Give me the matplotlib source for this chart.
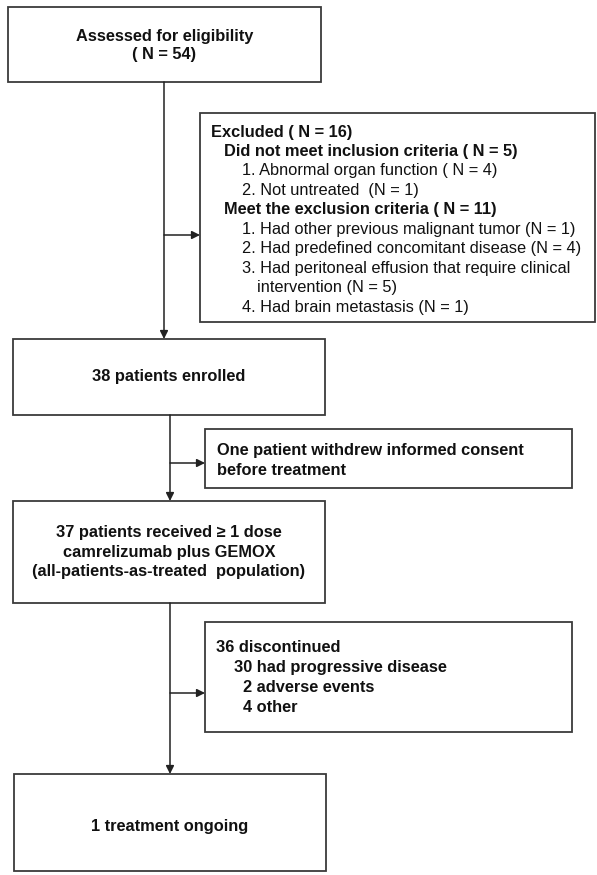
import matplotlib.pyplot as plt
from matplotlib.patches import Rectangle

# тексты блоков схемы
assessed = ['Assessed for eligibility', '( N = 54)']
enrolled = ['38 patients enrolled']
treated = ['37 patients received \u2265 1 dose', 'camrelizumab plus GEMOX',
           '(all-patients-as-treated  population)']
ongoing = ['1 treatment ongoing']
withdrew = ['One patient withdrew informed consent', 'before treatment']
excluded = ['Excluded ( N = 16)',
            'Did not meet inclusion criteria ( N = 5)',
            '1. Abnormal organ function ( N = 4)',
            '2. Not untreated  (N = 1)',
            'Meet the exclusion criteria ( N = 11)',
            '1. Had other previous malignant tumor (N = 1)',
            '2. Had predefined concomitant disease (N = 4)',
            '3. Had peritoneal effusion that require clinical',
            'intervention (N = 5)',
            '4. Had brain metastasis (N = 1)']
excluded_bold = [True, True, False, False, True, False, False, False, False, False]
excluded_indent = [0, 1, 2, 2, 1, 2, 2, 2, 3, 2]
discontinued = ['36 discontinued', '30 had progressive disease', '2 adverse events', '4 other']
disc_indent = [0, 1, 2, 2]

plt.rcParams['font.family'] = ['Liberation Sans', 'DejaVu Sans']
fs = 11.8
ec = '#3a3a3a'

fig = plt.figure(figsize=(5.97, 8.75), dpi=100)
ax = fig.add_axes([0, 0, 1, 1])
ax.set_xlim(0, 597)
ax.set_ylim(875, 0)
ax.axis('off')


def box(x0, y0, x1, y1):
    ax.add_patch(Rectangle((x0, y0), x1 - x0, y1 - y0, fill=False, ec=ec, lw=1.3))


def centered(lines, cx, cy, step=19.5):
    n = len(lines)
    for i, s in enumerate(lines):
        y = cy + (i - (n - 1) / 2) * step
        ax.text(cx, y, s, ha='center', va='center', fontsize=fs, fontweight='bold', color='#111')


def arrow(x0, y0, x1, y1):
    ax.annotate('', xy=(x1, y1), xytext=(x0, y0),
                arrowprops=dict(arrowstyle='-|>', color='#222', lw=1.1,
                                mutation_scale=12, shrinkA=0, shrinkB=0))


# главные блоки
box(8, 7, 321, 82)
centered(assessed, 164.5, 45, step=18)
box(13, 339, 325, 415)
centered(enrolled, 169, 377)
box(13, 501, 325, 603)
centered(treated, 169, 552)
box(14, 774, 326, 871)
centered(ongoing, 170, 827)

# боковые блоки
box(200, 113, 595, 322)
ind = [211, 224, 242, 257]
for i, s in enumerate(excluded):
    ax.text(ind[excluded_indent[i]], 132 + i * 19.45, s, ha='left', va='center', fontsize=fs,
            fontweight='bold' if excluded_bold[i] else 'normal', color='#111')

box(205, 429, 572, 488)
for i, s in enumerate(withdrew):
    ax.text(217, 451 + i * 19.5, s, ha='left', va='center', fontsize=fs, fontweight='bold', color='#111')

box(205, 622, 572, 732)
dind = [216, 234, 243]
for i, s in enumerate(discontinued):
    ax.text(dind[disc_indent[i]], 648 + i * 19.7, s, ha='left', va='center', fontsize=fs,
            fontweight='bold', color='#111')

# стрелки
arrow(164, 82, 164, 339)
arrow(164, 235, 200, 235)
arrow(170, 415, 170, 501)
arrow(170, 463, 205, 463)
arrow(170, 603, 170, 774)
arrow(170, 693, 205, 693)

plt.savefig('out.png', dpi=100)
